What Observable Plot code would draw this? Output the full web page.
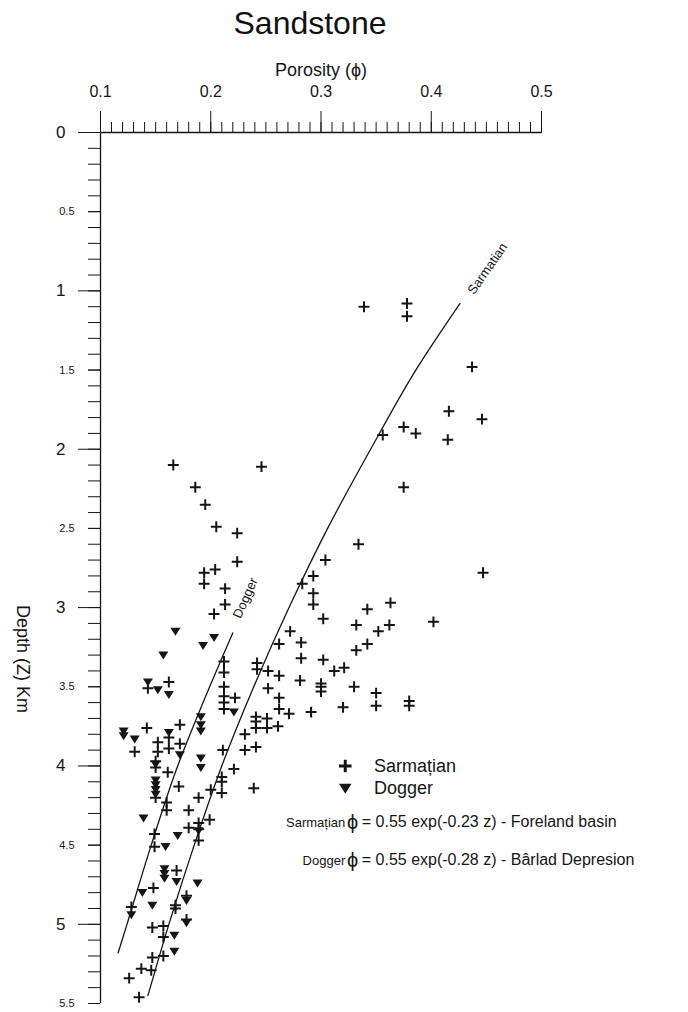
<!DOCTYPE html>
<html>
<head>
<meta charset="utf-8">
<script src="https://cdn.jsdelivr.net/npm/d3@7"></script>
<script src="https://cdn.jsdelivr.net/npm/@observablehq/plot@0.6"></script>
<style>
  body { margin: 0; background: #fff; font-family: "Liberation Sans", Arial, sans-serif; color: #111; }
  #title { height: 44px; width: 620px; text-align: center; font-size: 32px; line-height: 46px; }
</style>
</head>
<body>
<div id="title">Sandstone</div>
<div id="chart"></div>
<script>
// ---- tick labels ----
const xTicks = [0.1, 0.2, 0.3, 0.4, 0.5];
const yMajorTicks = [0, 1, 2, 3, 4, 5];
const yHalfTicks = [0.5, 1.5, 2.5, 3.5, 4.5, 5.5];

// ---- Sarmatian samples (porosity, depth km) ----
const sarmatianPhi = [0.339,0.378,0.378,0.437,0.416,0.446,0.356,0.375,0.386,0.415,
  0.166,0.246,0.375,0.334,0.447,0.186,0.195,0.205,0.224,0.224,
  0.194,0.204,0.194,0.213,0.213,0.203,0.304,0.293,0.283,0.293,
  0.293,0.302,0.272,0.262,0.282,0.342,0.363,0.402,0.332,0.352,
  0.362,0.332,0.342,0.282,0.302,0.312,0.321,0.242,0.242,0.252,
  0.262,0.281,0.300,0.300,0.300,0.330,0.252,0.262,0.350,0.350,
  0.380,0.380,0.320,0.262,0.271,0.291,0.241,0.241,0.241,0.251,
  0.251,0.261,0.231,0.231,0.241,0.221,0.239,0.222,0.212,0.212,
  0.212,0.212,0.212,0.212,0.143,0.162,0.142,0.172,0.162,0.152,
  0.162,0.172,0.152,0.131,0.211,0.150,0.150,0.161,0.150,0.171,
  0.160,0.160,0.180,0.180,0.149,0.149,0.189,0.210,0.210,0.200,
  0.210,0.189,0.189,0.189,0.199,0.169,0.148,0.178,0.168,0.168,
  0.128,0.178,0.147,0.157,0.157,0.157,0.147,0.137,0.146,0.126,0.135];
const sarmatianZ = [1.10,1.08,1.16,1.48,1.76,1.81,1.91,1.86,1.90,1.94,
  2.10,2.11,2.24,2.60,2.78,2.24,2.35,2.49,2.53,2.71,
  2.78,2.76,2.85,2.88,2.98,3.04,2.70,2.80,2.85,2.91,
  2.98,3.07,3.15,3.23,3.22,3.01,2.97,3.09,3.11,3.15,
  3.11,3.27,3.23,3.32,3.33,3.40,3.38,3.35,3.39,3.40,
  3.43,3.46,3.48,3.50,3.53,3.50,3.51,3.57,3.54,3.62,
  3.59,3.62,3.63,3.64,3.67,3.66,3.69,3.72,3.76,3.70,
  3.76,3.75,3.80,3.90,3.88,4.02,4.14,3.57,3.34,3.41,
  3.50,3.56,3.60,3.64,3.51,3.47,3.76,3.74,3.82,3.85,
  3.89,3.86,3.91,3.91,3.90,3.97,4.01,4.04,4.20,4.13,
  4.23,4.28,4.28,4.39,4.43,4.51,4.20,4.07,4.10,4.15,
  4.17,4.36,4.40,4.47,4.34,4.66,4.77,4.82,4.88,4.90,
  4.89,4.97,5.02,5.01,5.08,5.20,5.21,5.28,5.29,5.34,5.46];

// ---- Dogger samples (porosity, depth km) ----
const doggerPhi = [0.168,0.203,0.193,0.157,0.143,0.152,0.162,0.221,0.191,0.191,
  0.191,0.121,0.121,0.131,0.162,0.172,0.191,0.191,0.150,0.150,
  0.150,0.150,0.150,0.139,0.170,0.159,0.189,0.158,0.158,0.158,
  0.169,0.188,0.138,0.178,0.147,0.128,0.178,0.167,0.167];
const doggerZ = [3.15,3.19,3.24,3.30,3.47,3.52,3.55,3.66,3.69,3.74,
  3.78,3.78,3.81,3.83,3.79,3.93,3.95,4.01,3.99,4.09,
  4.12,4.15,4.18,4.33,4.44,4.51,4.41,4.65,4.68,4.71,
  4.73,4.74,4.80,4.85,4.88,4.94,4.99,5.07,5.17];

// ---- fitted trend curves ----
const sarmatianCurvePhi = [0.426,0.386,0.345,0.306,0.271,0.239,0.210,0.185,0.162,0.143];
const sarmatianCurveZ   = [1.08, 1.50, 2.00, 2.50, 3.00, 3.50, 4.00, 4.50, 5.00, 5.45];
const doggerCurvePhi = [0.220,0.193,0.170,0.146,0.124,0.116];
const doggerCurveZ   = [3.16, 3.60, 4.00, 4.50, 5.00, 5.18];

const toRows = (xs, ys) => xs.map((p, i) => ({phi: p, z: ys[i]}));
const sarmatian = toRows(sarmatianPhi, sarmatianZ);
const dogger = toRows(doggerPhi, doggerZ);
const sarmatianCurve = toRows(sarmatianCurvePhi, sarmatianCurveZ);
const doggerCurve = toRows(doggerCurvePhi, doggerCurveZ);

// custom symbols
const thinPlus = {
  draw(ctx, size) {
    const s = Math.sqrt(size / Math.PI) * 1.05;
    ctx.moveTo(-s, 0); ctx.lineTo(s, 0);
    ctx.moveTo(0, -s); ctx.lineTo(0, s);
  }
};
const downTri = {
  draw(ctx, size) {
    const s = Math.sqrt(size / Math.PI);
    ctx.moveTo(-1.25 * s, -0.9 * s);
    ctx.lineTo(1.25 * s, -0.9 * s);
    ctx.lineTo(0, 1.1 * s);
    ctx.closePath();
  }
};

const ink = "#151515";
const minorX = d3.range(10, 50).map(i => i / 100);
const minorY = d3.range(0, 56).map(i => i / 10);

const chart = Plot.plot({
  width: 688,
  height: 968,
  marginTop: 88,
  marginBottom: 9,
  marginLeft: 100,
  marginRight: 147,
  x: {domain: [0.1, 0.5], label: null},
  y: {domain: [0, 5.5], reverse: true, label: null},
  style: {fontFamily: "'Liberation Sans', Arial, sans-serif", background: "#fff", color: ink},
  marks: [
    // axes
    Plot.axisX(minorX, {anchor: "top", tickSize: 11, tickFormat: () => "", label: null}),
    Plot.axisX(xTicks, {anchor: "top", tickSize: 22, tickPadding: 14, fontSize: 16, tickFormat: d => d.toFixed(1), label: null}),
    Plot.axisY(minorY, {anchor: "left", tickSize: 12, tickFormat: () => "", label: null}),
    Plot.axisY(yMajorTicks, {anchor: "left", tickSize: 22, tickPadding: 13, fontSize: 17, tickFormat: d => String(d), label: null}),
    Plot.axisY(yHalfTicks, {anchor: "left", tickSize: 12, tickPadding: 14, fontSize: 11, tickFormat: d => String(d), label: null}),
    Plot.ruleX([0.1], {y1: 0, y2: 5.5, stroke: ink, strokeWidth: 1.3}),
    Plot.ruleY([0], {x1: 0.1, x2: 0.5, stroke: ink, strokeWidth: 1.3}),
    Plot.text(["Porosity (\u03D5)"], {frameAnchor: "top", dy: -69, fontSize: 18, fill: ink}),
    Plot.text(["Depth (Z) Km"], {frameAnchor: "left", dx: -78, dy: 37, rotate: 90, fontSize: 18, fill: ink}),

    // trend curves
    Plot.line(sarmatianCurve, {x: "phi", y: "z", curve: "monotone-y", stroke: ink, strokeWidth: 1.3}),
    Plot.line(doggerCurve, {x: "phi", y: "z", curve: "monotone-y", stroke: ink, strokeWidth: 1.3}),
    Plot.text(["Sarmatian"], {x: 0.451, y: 0.86, rotate: -55, fontSize: 13, fill: ink}),
    Plot.text(["Dogger"], {x: 0.2315, y: 2.94, rotate: -66, fontSize: 13, fill: ink}),

    // samples
    Plot.dot(dogger, {x: "phi", y: "z", symbol: downTri, r: 4, fill: ink, stroke: "none"}),
    Plot.dot(sarmatian, {x: "phi", y: "z", symbol: thinPlus, r: 5.2, fill: "none", stroke: ink, strokeWidth: 2}),

    // legend
    Plot.dot([0], {x: 0.322, y: 4.0, symbol: thinPlus, r: 6, fill: "none", stroke: ink, strokeWidth: 3}),
    Plot.dot([0], {x: 0.322, y: 4.14, symbol: downTri, r: 5, fill: ink, stroke: "none"}),
    Plot.text(["Sarma\u021Bian"], {x: 0.348, y: 4.0, textAnchor: "start", fontSize: 18, fill: ink}),
    Plot.text(["Dogger"], {x: 0.348, y: 4.14, textAnchor: "start", fontSize: 18, fill: ink}),

    // equations
    Plot.text(["Sarma\u021Bian"], {x: 0.322, y: 4.356, textAnchor: "end", fontSize: 13, fill: ink}),
    Plot.text(["\u03D5"], {x: 0.3286, y: 4.356, fontSize: 20, fill: ink}),
    Plot.text(["= 0.55 exp(-0.23 z) - Foreland basin"], {x: 0.337, y: 4.356, textAnchor: "start", fontSize: 16, fill: ink}),
    Plot.text(["Dogger"], {x: 0.322, y: 4.596, textAnchor: "end", fontSize: 13, fill: ink}),
    Plot.text(["\u03D5"], {x: 0.3286, y: 4.596, fontSize: 20, fill: ink}),
    Plot.text(["= 0.55 exp(-0.28 z) - B\u00E2rlad Depresion"], {x: 0.337, y: 4.596, textAnchor: "start", fontSize: 16, fill: ink})
  ]
});
document.getElementById("chart").appendChild(chart);
</script>
</body>
</html>
